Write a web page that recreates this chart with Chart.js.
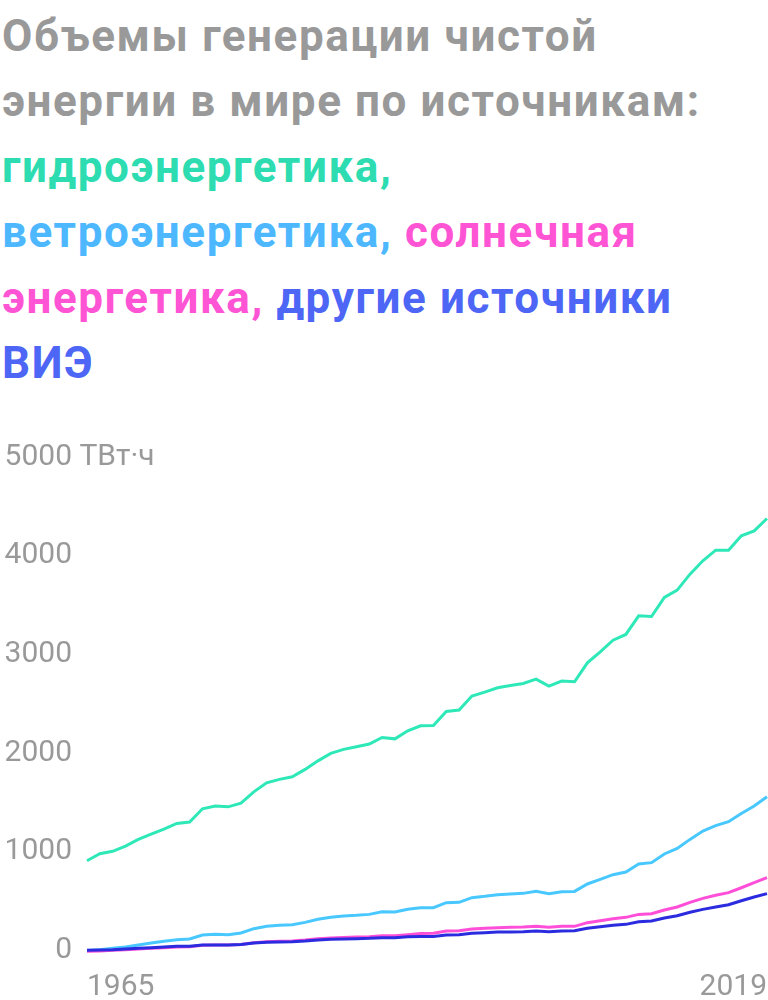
<!DOCTYPE html>
<html lang="ru">
<head>
<meta charset="utf-8">
<title>Объемы генерации чистой энергии</title>
<script src="https://cdn.jsdelivr.net/npm/chart.js@4.4.1/dist/chart.umd.min.js"></script>
<style>
  html, body { margin: 0; padding: 0; background: #fff; overflow: hidden; }
  body { width: 768px; height: 1000px; position: relative; font-family: Roboto, sans-serif; }
  .title {
    position: absolute; top: 4px; left: 2px;
    font-weight: 700; font-size: 44px; line-height: 65.4px;
    letter-spacing: 1.6px;
    color: #999;
    white-space: nowrap;
  }
  .hydro { color: #2ddcb0; }
  .wind { color: #4db8ff; }
  .solar { color: #ff55d5; }
  .other { color: #4d66f5; }
  .chart-box { position: absolute; left: 0; top: 420px; width: 768px; height: 580px; }
</style>
</head>
<body>
<div class="title">Объемы генерации чистой<br>энергии в мире по источникам:<br><span class="hydro">гидроэнергетика,</span><br><span class="wind">ветроэнергетика,</span> <span class="solar">солнечная<br>энергетика,</span> <span class="other">другие источники<br>ВИЭ</span></div>
<div class="chart-box"><canvas id="chart"></canvas></div>
<script>
// years in the data (first and last tick shown as in the picture)
const years = [];
for (let y = 1965; y <= 2018; y++) years.push(String(y));
const edgeLabels = ['1965', '2019'];
const unitLabel = 'ТВт·ч';

// TWh
const hydro = [908, 979, 1004, 1057, 1125, 1179, 1230, 1287, 1300, 1435,
  1463, 1455, 1493, 1607, 1698, 1733, 1759, 1834, 1921, 1996,
  2037, 2063, 2091, 2158, 2144, 2225, 2276, 2280, 2422, 2435,
  2577, 2617, 2661, 2685, 2705, 2749, 2678, 2729, 2722, 2914,
  3026, 3144, 3202, 3390, 3384, 3577, 3651, 3813, 3948, 4056,
  4056, 4201, 4251, 4377];
const wind = [0, 7, 21, 34, 55, 75, 92, 109, 115, 156,
  163, 159, 176, 220, 244, 254, 261, 284, 315, 335,
  348, 355, 365, 392, 389, 416, 433, 433, 484, 487,
  534, 548, 565, 571, 578, 598, 575, 595, 598, 673,
  720, 767, 794, 875, 889, 977, 1034, 1125, 1210, 1264,
  1304, 1388, 1463, 1557];
const solar = [-9, -6, 1, 7, 14, 21, 27, 34, 38, 51,
  55, 55, 61, 78, 88, 92, 95, 105, 118, 125,
  132, 135, 139, 149, 149, 159, 171, 173, 197, 200,
  217, 224, 230, 234, 237, 244, 234, 244, 244, 281,
  301, 321, 335, 365, 372, 409, 440, 487, 527, 558,
  585, 635, 686, 737];
const other = [1, 4, 7, 14, 21, 27, 34, 41, 41, 55,
  55, 55, 61, 75, 82, 85, 88, 95, 105, 112,
  115, 118, 122, 129, 129, 139, 142, 142, 156, 159,
  173, 180, 186, 186, 190, 197, 190, 197, 200, 224,
  240, 254, 264, 291, 298, 328, 352, 386, 416, 440,
  463, 503, 541, 575];

Chart.defaults.font.family = 'Roboto';

function line(label, data, color, order) {
  return {
    label: label,
    data: data,
    borderColor: color,
    borderWidth: 3,
    pointRadius: 0,
    tension: 0,
    fill: false,
    clip: false,
    order: order
  };
}

// unit after the top tick label
const unitPlugin = {
  id: 'unit',
  afterDraw(chart) {
    const y = chart.scales.y;
    const c = chart.ctx;
    c.save();
    c.font = '30px Roboto';
    c.fillStyle = '#999';
    c.textAlign = 'left';
    c.textBaseline = 'middle';
    c.fillText(' ' + unitLabel, y.right - 15, y.getPixelForValue(5000));
    c.restore();
  }
};

new Chart(document.getElementById('chart'), {
  type: 'line',
  data: {
    labels: years,
    datasets: [
      line('гидроэнергетика', hydro, '#2ee8b8', 3),
      line('ветроэнергетика', wind, '#48c8ff', 2),
      line('солнечная энергетика', solar, '#ff4fd8', 1),
      line('другие источники ВИЭ', other, '#2b2be0', 0)
    ]
  },
  options: {
    responsive: true,
    maintainAspectRatio: false,
    animation: false,
    layout: { padding: { top: 37, right: 1, left: 0, bottom: 0 } },
    plugins: { legend: { display: false }, tooltip: { enabled: false } },
    scales: {
      x: {
        // invisible tick marks push the labels down without side padding
        grid: { display: true, drawOnChartArea: false, drawTicks: true, tickLength: 19, color: 'rgba(0,0,0,0)' },
        border: { display: false },
        afterBuildTicks: (s) => { s.ticks = [s.ticks[0], s.ticks[s.ticks.length - 1]]; },
        afterFit: (s) => { s.height = 49.6; },
        ticks: {
          autoSkip: false,
          maxRotation: 0,
          align: 'inner',
          padding: 0,
          color: '#999',
          font: { size: 30 },
          callback: (v, i) => edgeLabels[i]
        }
      },
      y: {
        min: 0,
        max: 5000,
        grid: { display: false, drawTicks: false },
        border: { display: false },
        afterFit: (s) => { s.width = 87; },
        ticks: {
          stepSize: 1000,
          padding: 15,
          color: '#999',
          font: { size: 30 },
          callback: (v) => String(v)
        }
      }
    }
  },
  plugins: [unitPlugin]
});
</script>
</body>
</html>
